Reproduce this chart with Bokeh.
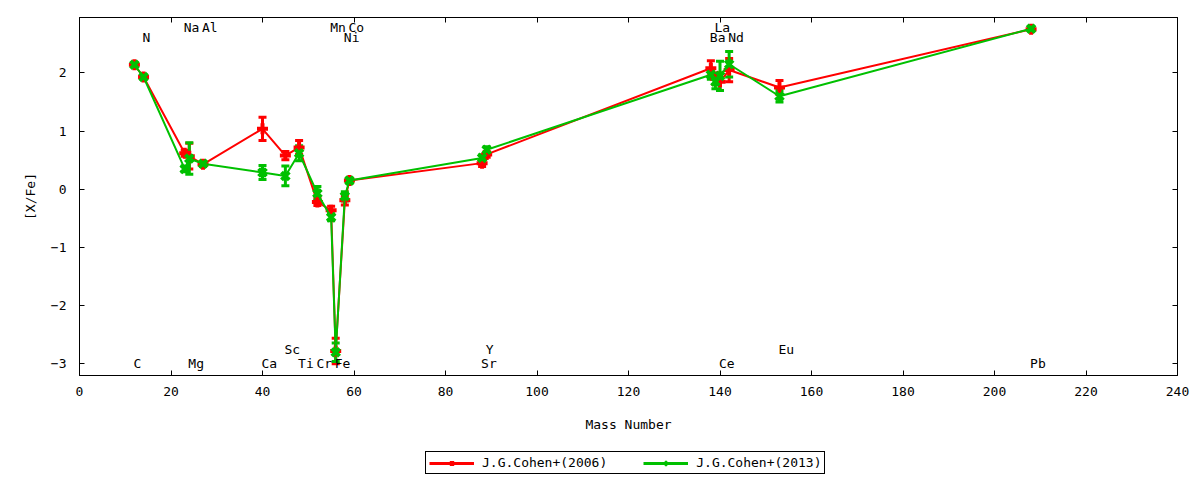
from bokeh.plotting import figure
from bokeh.layouts import column
from bokeh.models import (ColumnDataSource, Whisker, TeeHead, Range1d, FixedTicker,
                          LinearAxis, CustomJSTickFormatter, Legend, LegendItem)
from bokeh.core.properties import value
from bokeh.embed import file_html
from bokeh.resources import INLINE

# ---------------- data ----------------
elements = ["C", "N", "Na", "Mg", "Al", "Ca", "Sc", "Ti", "Cr", "Mn", "Fe",
            "Ni", "Co", "Sr", "Y", "Ba", "La", "Ce", "Nd", "Eu", "Pb"]
mass_number = [12, 14, 23, 24, 27, 40, 45, 48, 52, 55, 56,
               58, 59, 88, 89, 138, 139, 140, 142, 153, 208]
xfe_2006 = [2.14, 1.93, 0.62, 0.57, 0.43, 1.04, 0.58, 0.72, -0.22, -0.36, -2.78,
            -0.19, 0.15, 0.45, 0.60, 2.08, 1.90, 1.85, 2.05, 1.75, 2.75]
err_2006 = [0.03, 0.03, 0.05, 0.22, 0.04, 0.20, 0.07, 0.12, 0.06, 0.07, 0.22,
            0.08, 0.04, 0.06, 0.05, 0.13, 0.10, 0.15, 0.20, 0.12, 0.03]
xfe_2013 = [2.14, 1.93, 0.35, 0.53, 0.44, 0.29, 0.23, 0.62, -0.07, -0.48, -2.80,
            -0.12, 0.15, 0.54, 0.68, 1.97, 1.85, 1.95, 2.15, 1.60, 2.76]
err_2013 = [0.03, 0.03, 0.05, 0.27, 0.04, 0.12, 0.17, 0.13, 0.12, 0.06, 0.16,
            0.08, 0.04, 0.05, 0.05, 0.08, 0.12, 0.25, 0.22, 0.10, 0.03]

series_names = ["J.G.Cohen+(2006)", "J.G.Cohen+(2013)"]
x_ticks = [0, 20, 40, 60, 80, 100, 120, 140, 160, 180, 200, 220, 240]
y_ticks = [-3, -2, -1, 0, 1, 2]

# element label rows (top rows / bottom rows)
label_rows = {
    2.78: ["Na", "Al", "Mn", "Co", "La"],
    2.61: ["N", "Ni", "Ba", "Nd"],
    -2.76: ["Sc", "Y", "Eu"],
    -3.0: ["C", "Mg", "Ca", "Ti", "Cr", "Fe", "Sr", "Ce", "Pb"],
}

FONT = "DejaVu Sans Mono"
RED = "#ff0000"
GREEN = "#00c000"
styles = [(RED, "cross"), (GREEN, "x")]

p = figure(frame_width=1098, frame_height=358, output_backend="svg", toolbar_location=None,
           x_range=Range1d(0, 240), y_range=Range1d(-3.2, 2.953),
           min_border_left=79, min_border_right=15, min_border_top=17,
           min_border_bottom=62)
p.xgrid.visible = False
p.ygrid.visible = False
p.outline_line_color = "black"
p.outline_line_width = 1
p.outline_line_alpha = 1
p.background_fill_color = "white"
p.border_fill_color = "white"

for ax, ticks in ((p.xaxis[0], x_ticks), (p.yaxis[0], y_ticks)):
    ax.ticker = FixedTicker(ticks=ticks)
    ax.major_tick_in = 5
    ax.major_tick_out = 0
    ax.minor_tick_line_color = None
    ax.axis_line_color = "black"
    ax.major_tick_line_color = "black"
    ax.major_label_text_font = FONT
    ax.major_label_text_font_size = "13px"
    ax.major_label_text_color = "black"
    ax.axis_label_text_font = FONT
    ax.axis_label_text_font_size = "13px"
    ax.axis_label_text_font_style = "normal"
    ax.axis_label_text_color = "black"

p.xaxis.axis_label = "Mass Number"
p.yaxis.axis_label = "[X/Fe]"
p.xaxis.major_label_standoff = 11
p.xaxis.axis_label_standoff = 18
p.yaxis.major_label_standoff = 13
p.yaxis.axis_label_standoff = 10

# mirrored ticks (top / right)
empty = CustomJSTickFormatter(code="return '';")
top_ax = LinearAxis(ticker=FixedTicker(ticks=x_ticks), formatter=empty,
                    major_tick_in=5, major_tick_out=0, minor_tick_line_color=None,
                    major_label_standoff=0, major_label_text_font_size="1px")
right_ax = LinearAxis(ticker=FixedTicker(ticks=y_ticks), formatter=empty,
                      major_tick_in=5, major_tick_out=0, minor_tick_line_color=None,
                      major_label_standoff=0, major_label_text_font_size="1px")
p.add_layout(top_ax, "above")
p.add_layout(right_ax, "right")

sources = []
for vals, errs, (color, marker) in ((xfe_2006, err_2006, styles[0]),
                                    (xfe_2013, err_2013, styles[1])):
    src = ColumnDataSource(dict(
        x=mass_number, y=vals,
        lo=[v - e for v, e in zip(vals, errs)],
        hi=[v + e for v, e in zip(vals, errs)]))
    sources.append(src)
    p.line("x", "y", source=src, line_color=color, line_width=2)
    wh = Whisker(base="x", lower="lo", upper="hi", source=src, dimension="height",
                 line_color=color, line_width=3,
                 upper_head=TeeHead(size=8, line_color=color, line_width=3),
                 lower_head=TeeHead(size=8, line_color=color, line_width=3))
    p.add_layout(wh)
    p.scatter("x", "y", source=src, marker=marker, size=11, line_color=color,
              fill_color=color, line_width=4)

# element labels
lab_x, lab_y, lab_t = [], [], []
for yrow, els in label_rows.items():
    for el in els:
        lab_x.append(mass_number[elements.index(el)])
        lab_y.append(yrow)
        lab_t.append(el)
p.text(x=lab_x, y=lab_y, text=lab_t, text_font=value(FONT), text_font_size="13px",
       text_align="left", text_baseline="middle", text_color="black", x_offset=-1)

# ---------------- legend strip below ----------------
# the strip's ranges lie outside the data, so only the legend shows
lg = figure(width=p.frame_width + 79 + 15, height=42, output_backend="svg",
            toolbar_location=None, x_range=Range1d(1000, 1001), y_range=Range1d(1000, 1001),
            min_border=0, outline_line_color=None)
lg.axis.visible = False
lg.xgrid.visible = False
lg.ygrid.visible = False
items = []
for name, src, (color, marker) in zip(series_names, sources, styles):
    r1 = lg.line("x", "y", source=src, line_color=color, line_width=3)
    r2 = lg.scatter("x", "y", source=src, marker=marker, size=11, line_color=color,
                    fill_color=color, line_width=4)
    items.append(LegendItem(label=name, renderers=[r1, r2], index=0))
legend = Legend(items=items, orientation="horizontal", location=(346, 5),
                border_line_color="black", border_line_width=1, border_line_alpha=1,
                label_text_font=FONT, label_text_font_size="13px",
                label_text_color="black",
                glyph_width=45, glyph_height=12, label_standoff=8, spacing=36,
                padding=3, margin=0, background_fill_color="white",
                background_fill_alpha=1, label_height=14)
lg.add_layout(legend, "center")

open("out.html", "w").write(file_html(column(p, lg, spacing=0), INLINE))
